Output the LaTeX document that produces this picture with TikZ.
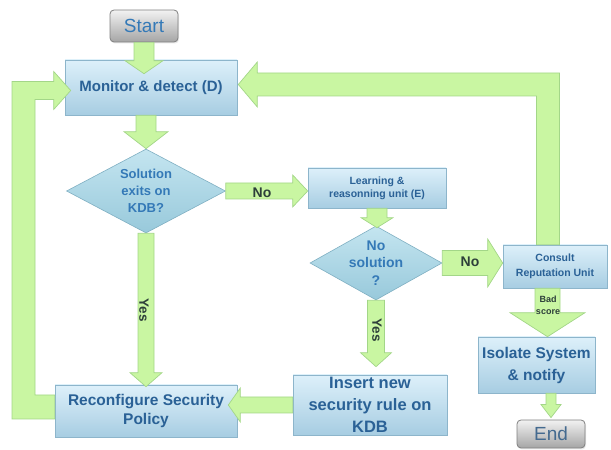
\documentclass[tikz,border=0pt]{standalone}
\usepackage{fontspec}
\setmainfont{Liberation Sans}
\usetikzlibrary{calc,shapes.geometric,shadows}

\definecolor{boxtop}{HTML}{DDF0FA}
\definecolor{boxbot}{HTML}{A7CDE2}
\definecolor{boxline}{HTML}{8DB5CB}
\definecolor{diatop}{HTML}{C4E5F0}
\definecolor{diabot}{HTML}{98C9DB}
\definecolor{dialine}{HTML}{7FAFC2}
\definecolor{arrfill}{HTML}{C9F6A2}
\definecolor{arrline}{HTML}{A3D688}
\definecolor{boxtext}{HTML}{2A6196}
\definecolor{diatext}{HTML}{3479B7}
\definecolor{labtext}{HTML}{2D3F3A}
\definecolor{termtop}{HTML}{F2F2F2}
\definecolor{termbot}{HTML}{A5A5A5}
\definecolor{termline}{HTML}{808080}

\newcommand\setfs[2]{\fontsize{#1}{#2}\selectfont}

% vertical block arrow pointing down: from, tip, shaft half width, head half width, head length
\newcommand\vblk[5]{%
  \path[blk] let \p1=(#1), \p2=(#2) in
    (\x1-#3pt,\y1) -- (\x1-#3pt,\y2+#5pt) -- (\x1-#4pt,\y2+#5pt) -- (\x1,\y2)
    -- (\x1+#4pt,\y2+#5pt) -- (\x1+#3pt,\y2+#5pt) -- (\x1+#3pt,\y1) -- cycle;}
% horizontal block arrow: from, tip, shaft half width, head half width, head length, direction (1 right, -1 left)
\newcommand\hblk[6]{%
  \path[blk] let \p1=(#1), \p2=(#2) in
    (\x1,\y1+#3pt) -- (\x2-#6*#5pt,\y1+#3pt) -- (\x2-#6*#5pt,\y1+#4pt) -- (\x2,\y1)
    -- (\x2-#6*#5pt,\y1-#4pt) -- (\x2-#6*#5pt,\y1-#3pt) -- (\x1,\y1-#3pt) -- cycle;}

\tikzset{
  box/.style={rectangle, draw=boxline, line width=0.6pt, top color=boxtop, bottom color=boxbot,
    inner sep=0pt, align=center, text=boxtext,
    drop shadow={opacity=0.18, shadow xshift=1pt, shadow yshift=-1.5pt}},
  dia/.style={diamond, draw=dialine, line width=0.6pt, top color=diatop, bottom color=diabot, inner sep=0pt},
  dtext/.style={align=center, text=diatext},
  term/.style={rectangle, rounded corners=4pt, draw=termline, line width=0.8pt,
    top color=termtop, bottom color=termbot, inner sep=0pt,
    drop shadow={opacity=0.18, shadow xshift=1pt, shadow yshift=-1.5pt}},
  blk/.style={fill=arrfill, draw=arrline, line width=0.7pt, line join=miter},
  lab/.style={text=labtext, align=center},
}

\begin{document}
\begin{tikzpicture}[x=1pt,y=1pt]
\useasboundingbox (0,0) rectangle (611,450);

% process boxes and decisions
\node[term, minimum width=68pt, minimum height=32pt, text=diatext, font=\setfs{19}{22}] (start) at (144,424) {Start};
\node[box, minimum width=172pt, minimum height=55pt, font=\bfseries\setfs{15}{18}] (monitor) at (151,362.5) {Monitor \& detect (D)};
\node[dia, minimum width=159pt, minimum height=84pt] (d1) at (146,259) {};
\node[dtext, font=\bfseries\setfs{13}{17}] (d1t) at (d1) {Solution\\exits on\\KDB?};
\node[box, minimum width=138pt, minimum height=40pt, font=\bfseries\setfs{10.5}{13}] (learn) at (377,262) {Learning \&\\reasonning unit (E)};
\node[dia, minimum width=132pt, minimum height=74pt] (d2) at (376,187) {};
\node[dtext, font=\bfseries\setfs{14}{17.5}] (d2t) at (d2) {No\\solution\\?};
\node[box, minimum width=104pt, minimum height=43pt, font=\bfseries\setfs{10.5}{15}] (consult) at (555,183.5) {Consult\\Reputation Unit};
\node[box, minimum width=117pt, minimum height=56pt, font=\bfseries\setfs{15.5}{22}] (isolate) at (536.5,85) {Isolate System\\\& notify};
\node[term, minimum width=68pt, minimum height=28pt, text=boxtext!70!gray, font=\setfs{19}{22}] (endn) at (551,16) {End};
\node[box, minimum width=182pt, minimum height=52pt, font=\bfseries\setfs{15.5}{19}] (recon) at (146,39) {Reconfigure Security\\Policy};
\node[box, minimum width=154pt, minimum height=60pt, font=\bfseries\setfs{16.5}{22}] (insert) at (370,45) {Insert new\\security rule on\\KDB};

% straight block arrows
\vblk{start.south}{$(monitor.north)+(0,-14)$}{10}{19}{13}
\vblk{$(monitor.south)+(-5,0)$}{d1.north}{10}{22}{17}
\hblk{d1.east}{learn.west}{8}{16}{15}{1}
\vblk{learn.south}{$(d2.north)+(0,-2)$}{10}{16}{10}
\hblk{d2.east}{consult.west}{12.5}{24}{15}{1}
\vblk{d2.south}{$(insert.north)+(0,8)$}{8.5}{15.5}{14}
\vblk{$(consult.south)+(-7.5,0)$}{isolate.north}{12.5}{37.5}{24}
\vblk{isolate.south -| endn.north}{$(endn.north)+(0,2)$}{5}{10}{13}
\hblk{insert.west}{$(recon.east)+(-9,0)$}{8}{17}{12}{-1}
\vblk{d1.south}{$(recon.north)+(0,-2)$}{8}{16}{14}

% feedback loop from the reputation unit back to monitoring
\path[blk] let \p1=($(consult.north)+(-7,0)$), \p2=($(monitor.east)+(1,3)$) in
  (\x1-11.5pt,\y1) -- (\x1-11.5pt,\y2-11.5pt) -- (\x2+19pt,\y2-11.5pt) -- (\x2+19pt,\y2-22.5pt)
  -- (\x2,\y2) -- (\x2+19pt,\y2+22.5pt) -- (\x2+19pt,\y2+11.5pt) -- (\x1+11.5pt,\y2+11.5pt)
  -- (\x1+11.5pt,\y1) -- cycle;

% feedback loop from the reconfiguration back to monitoring
\path[blk] let \p1=($(recon.west)+(0,4)$), \p2=($(monitor.west)+(6,-3)$) in
  (\x1,\y1-12pt) -- (12pt,\y1-12pt) -- (12pt,\y2+9pt) -- (\x2-17pt,\y2+9pt) -- (\x2-17pt,\y2+19pt)
  -- (\x2,\y2) -- (\x2-17pt,\y2-19pt) -- (\x2-17pt,\y2-9pt) -- (35pt,\y2-9pt) -- (35pt,\y1+12pt)
  -- (\x1,\y1+12pt) -- cycle;

% arrow labels
\node[lab, font=\bfseries\setfs{14}{16}] (no1) at (262,257) {No};
\node[lab, font=\bfseries\setfs{14}{16}] (no2) at (470,188) {No};
\node[lab, font=\bfseries\setfs{13.5}{15}, rotate=-90] (yes1) at (144,140) {Yes};
\node[lab, font=\bfseries\setfs{13.5}{15}, rotate=-90] (yes2) at (377,120) {Yes};
\node[lab, font=\bfseries\setfs{9}{12}] (bad) at (548,145) {Bad\\score};
\end{tikzpicture}
\end{document}
